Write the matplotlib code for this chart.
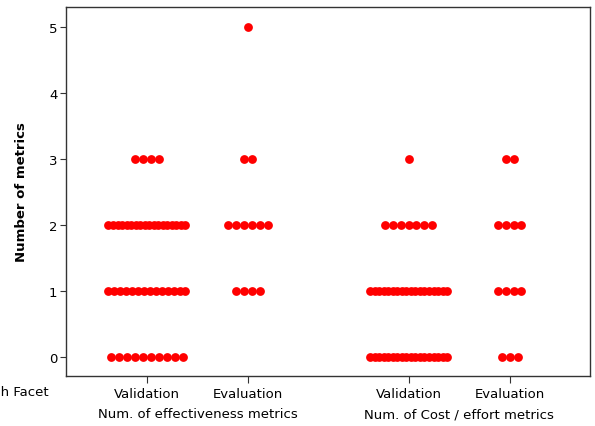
import numpy as np
import matplotlib
matplotlib.use("Agg")
import matplotlib.pyplot as plt
from matplotlib.transforms import blended_transform_factory

# Counts of studies per number of metrics, one list per column
metric_values = [0, 1, 2, 3, 4, 5]
val_effect = [10, 14, 18, 4, 0, 0]
eval_effect = [0, 4, 6, 2, 0, 1]
val_cost = [18, 18, 7, 1, 0, 0]
eval_cost = [3, 4, 4, 2, 0, 0]

facet_labels = ["Validation", "Evaluation", "Validation", "Evaluation"]
group_labels = ["Num. of effectiveness metrics", "Num. of Cost / effort metrics"]

columns = [val_effect, eval_effect, val_cost, eval_cost]
positions = [1.0, 2.0, 3.59, 4.59]

plt.rcParams['font.family'] = ['DejaVu Sans']
plt.rcParams['font.size'] = 9.5

fig = plt.figure(figsize=(5.95, 4.27), dpi=100)
ax = fig.add_axes([0.1104, 0.1178, 0.9916 - 0.1104, 0.9806 - 0.1178])

px = 1 / 101.0      # data units per pixel along x
dot_step = 7.9      # pixels between neighbouring dots
max_span = 77.0     # widest spread of a row, pixels

for pos, counts in zip(positions, columns):
    for yv, n in zip(metric_values, counts):
        if n == 0:
            continue
        step = dot_step if n == 1 else min(dot_step, max_span / (n - 1))
        offs = (np.arange(n) - (n - 1) / 2) * step * px
        ax.scatter(pos + offs, np.full(n, yv), s=40, color='#ff0000',
                   linewidths=0, zorder=3)

ax.set_xlim(0.195, 5.386)
ax.set_ylim(-0.29, 5.30)
ax.set_yticks(range(6))
ax.set_xticks(positions)
ax.set_xticklabels(facet_labels)
ax.tick_params(axis='y', length=4, width=0.8, color='#333333', pad=2)
ax.tick_params(axis='x', length=5, width=0.8, color='#333333', pad=3)
for sp in ax.spines.values():
    sp.set_color('#333333')
    sp.set_linewidth(1.0)

ax.set_ylabel('Number of metrics', fontweight='bold', labelpad=15)

# second row of category labels under the facet names
trans = blended_transform_factory(ax.transData, fig.transFigure)
ax.text((positions[0] + positions[1]) / 2, 1 - 415 / 427, group_labels[0],
        transform=trans, ha='center', va='center')
ax.text((positions[2] + positions[3]) / 2, 1 - 415 / 427, group_labels[1],
        transform=trans, ha='center', va='center')
fig.text(48.5 / 595, 1 - 393 / 427, 'Research Facet', ha='right', va='center')

fig.savefig('out.png', dpi=100)
